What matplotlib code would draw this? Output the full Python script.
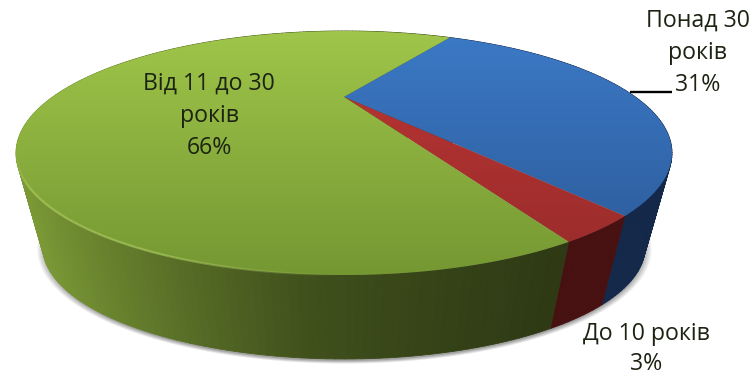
import numpy as np
import matplotlib
matplotlib.use("Agg")
import matplotlib.pyplot as plt
from matplotlib.collections import LineCollection, PolyCollection
from matplotlib.patches import Polygon

# ============================
# DATA
# ============================
labels = ["Понад 30\nроків", "До 10 років", "Від 11 до 30\nроків"]
values = [31, 3, 66]

top_colors = [(0.235, 0.478, 0.780), (0.745, 0.212, 0.208), (0.627, 0.776, 0.290)]
bottom_colors = [(0.165, 0.345, 0.585), (0.590, 0.170, 0.165), (0.455, 0.590, 0.195)]
wall_colors = [(0.21, 0.42, 0.76), (0.74, 0.18, 0.18), (0.48, 0.60, 0.21)]

label_pos = [(698, 53), (646, 349), (209, 116)]
label_spacing = [1.47, 1.36, 1.47]

# ============================
# GEOMETRY
# ============================
CX, CY, RX, RY = 344, 153, 328, 122
TILT = 0.46
START_ANGLE = 59.5
WALL_DY = 94
WALL_SCALE = 0.918


def disc_to_px(t):
    # perspective view of the disc, centre pushed towards the far edge
    x, y = np.cos(t), np.sin(t)
    den = 1 + TILT * y
    xx = x * np.sqrt(1 - TILT ** 2) / den
    yy = (y + TILT) / den
    return CX + RX * xx, CY - RY * yy


def lower_rim(px, py):
    return CX + (px - CX) * WALL_SCALE, CY + WALL_DY + (py - CY) * WALL_SCALE


def wall_shade(px):
    return np.interp(px, [25, 100, 200, 300, 400, 550, 680],
                     [1.0, 0.85, 0.68, 0.53, 0.46, 0.38, 0.38])


fig = plt.figure(figsize=(7.54, 3.78), dpi=100)
ax = fig.add_axes([0, 0, 1, 1])
ax.axis("off")

# soft shadow under the lower rim
yy, xx = np.mgrid[0:378, 0:754]
r = np.hypot((xx - CX) / (RX * WALL_SCALE), (yy - CY - WALL_DY - 2) / (RY * WALL_SCALE))
shadow = np.zeros((378, 754, 4))
shadow[..., :3] = 0.4
shadow[..., 3] = np.clip((1.022 - r) / 0.03, 0, 1) * 0.6
ax.imshow(shadow, extent=(0, 754, 378, 0), zorder=1, aspect="auto")

# wedge boundaries, clockwise from the start angle
edges = START_ANGLE - np.cumsum([0] + values) / sum(values) * 360

quads, quad_colors, quad_y = [], [], []
for i in range(len(values)):
    n = max(4, int(abs(edges[i + 1] - edges[i])))
    ts = np.radians(np.linspace(edges[i], edges[i + 1], n + 1))
    px, py = disc_to_px(ts)
    bx, by = lower_rim(px, py)
    for j in range(n):
        quads.append([(px[j], py[j]), (px[j + 1], py[j + 1]), (bx[j + 1], by[j + 1]), (bx[j], by[j])])
        s = wall_shade((px[j] + px[j + 1]) / 2)
        quad_colors.append(tuple(c * s for c in wall_colors[i]))
        quad_y.append(py[j])

order = np.argsort(quad_y)
walls = PolyCollection([quads[k] for k in order], facecolors=[quad_colors[k] for k in order],
                       edgecolors="face", linewidths=0.6, zorder=2)
ax.add_collection(walls)

# top faces with a vertical gradient
apex_y = CY - RY * TILT
for i in range(len(values)):
    ts = np.radians(np.linspace(edges[i], edges[i + 1], 200))
    px, py = disc_to_px(ts)
    poly = Polygon(np.column_stack([np.r_[CX, px], np.r_[apex_y, py]]), closed=True,
                   transform=ax.transData, facecolor="none", edgecolor="none")
    ax.add_patch(poly)
    frac = np.linspace(0, 1, 256)[:, None]
    grad = np.zeros((256, 1, 3))
    for c in range(3):
        grad[..., c] = top_colors[i][c] + (bottom_colors[i][c] - top_colors[i][c]) * frac
    im = ax.imshow(grad, extent=(0, 754, 280, 28), zorder=3, aspect="auto")
    im.set_clip_path(poly)

# bevel highlight along the near rim of the large slice
ts = np.radians(np.linspace(edges[2], edges[3], 500))
px, py = disc_to_px(ts)
pts = np.column_stack([px, py])
segs = np.stack([pts[:-1], pts[1:]], axis=1)
mx = (px[:-1] + px[1:]) / 2
my = (py[:-1] + py[1:]) / 2
alpha = np.clip((my - 150) / 40, 0, 1) * np.clip((340 - mx) / 180, 0, 1)
rim = np.zeros((len(segs), 4))
rim[:, :3] = (0.70, 0.82, 0.40)
rim[:, 3] = alpha * 0.6
ax.add_collection(LineCollection(segs, colors=rim, linewidths=1.6, zorder=4))

# leader for the top right label
ax.plot([630, 672], [92, 92], color="black", lw=1.7, zorder=5, solid_capstyle="butt")

for i in range(len(values)):
    ax.text(label_pos[i][0], label_pos[i][1], f"{labels[i]}\n{values[i]}%",
            ha="center", va="center", fontsize=16.7, family="Open Sans",
            color="#1c2312", linespacing=label_spacing[i], zorder=6)

ax.set_xlim(0, 754)
ax.set_ylim(378, 0)
fig.savefig("out.png", dpi=100)
